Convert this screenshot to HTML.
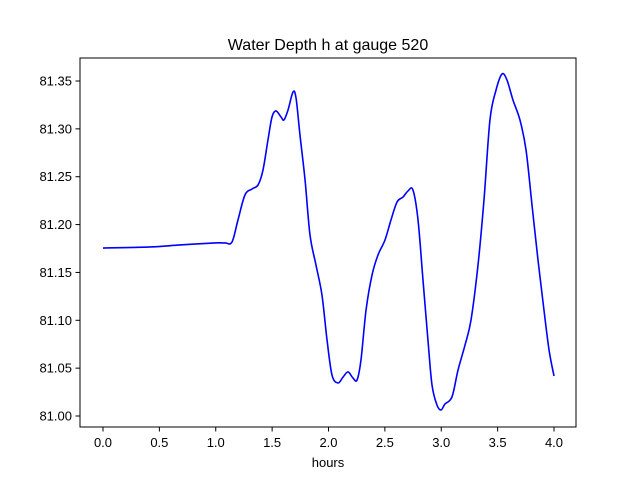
<!DOCTYPE html>
<html><head><meta charset="utf-8"><style>
body{margin:0;background:#fff;}
svg{display:block;font-family:"Liberation Sans","DejaVu Sans",sans-serif;}
</style></head><body>
<svg id="chart" width="640" height="480">
<rect width="640" height="480" fill="#fff"/>
<text x="328" y="50" text-anchor="middle" font-size="16">Water Depth h at gauge 520</text>
<g id="axes"></g>
<path id="line" fill="none" stroke="#0000ff" stroke-width="1.6"/>
<rect x="80" y="58" width="496" height="369" fill="none" stroke="#000" stroke-width="1"/>
<text x="328" y="467" text-anchor="middle" font-size="13">hours</text>
</svg>
<script>
const hours=[0,0.417,0.683,0.993,1.082,1.144,1.197,1.259,1.322,1.375,1.419,1.463,1.499,1.534,1.579,1.605,1.641,1.685,1.712,1.747,1.792,1.836,1.889,1.942,1.987,2.031,2.084,2.129,2.173,2.217,2.253,2.288,2.333,2.386,2.439,2.501,2.554,2.608,2.661,2.705,2.749,2.794,2.838,2.882,2.918,2.962,2.998,3.033,3.095,3.149,3.211,3.264,3.326,3.379,3.432,3.486,3.539,3.583,3.636,3.698,3.752,3.805,3.858,3.911,3.956,4.0];
const depth=[81.1755,81.1766,81.1787,81.1808,81.1808,81.1818,81.2048,81.2309,81.2372,81.2414,81.2570,81.2884,81.3124,81.3187,81.3124,81.3093,81.3197,81.3385,81.3322,81.2936,81.2466,81.1891,81.1578,81.1264,81.0794,81.0428,81.0345,81.0407,81.0460,81.0397,81.0376,81.0585,81.1107,81.1473,81.1682,81.1839,81.2048,81.2236,81.2288,81.2351,81.2361,81.2048,81.1421,81.0794,81.0324,81.0115,81.0063,81.0125,81.0199,81.0481,81.0742,81.1003,81.1578,81.2257,81.3093,81.3406,81.3573,81.3510,81.3302,81.3093,81.2779,81.2204,81.1630,81.1107,81.0690,81.0418];
const xTicks=[0,0.5,1,1.5,2,2.5,3,3.5,4];
const xTickLabels=["0.0","0.5","1.0","1.5","2.0","2.5","3.0","3.5","4.0"];
const yTicks=[81.00,81.05,81.10,81.15,81.20,81.25,81.30,81.35];
const yTickLabels=["81.00","81.05","81.10","81.15","81.20","81.25","81.30","81.35"];
const xs=h=>103+h*112.75;
const ys=v=>416-(v-81.0)*957.1;
const NS="http://www.w3.org/2000/svg";
const axes=document.getElementById('axes');
xTicks.forEach((t,i)=>{
  const l=document.createElementNS(NS,'line');
  
  
  l.setAttribute('x1',xs(t));l.setAttribute('x2',xs(t));l.setAttribute('y1',427);l.setAttribute('y2',431.5);l.setAttribute('stroke','#000');
  axes.appendChild(l);
  const tx=document.createElementNS(NS,'text');
  
  
  tx.setAttribute('x',xs(t));tx.setAttribute('y',447);tx.setAttribute('text-anchor','middle');tx.setAttribute('font-size','13');
  tx.textContent=xTickLabels[i];axes.appendChild(tx);
});
yTicks.forEach((t,i)=>{
  const l=document.createElementNS(NS,'line');
  
  
  l.setAttribute('x1',75.5);l.setAttribute('x2',80);l.setAttribute('y1',ys(t));l.setAttribute('y2',ys(t));l.setAttribute('stroke','#000');
  axes.appendChild(l);
  const tx=document.createElementNS(NS,'text');
  
  
  tx.setAttribute('x',72);tx.setAttribute('y',ys(t)+4.5);tx.setAttribute('text-anchor','end');tx.setAttribute('font-size','13');
  tx.textContent=yTickLabels[i];axes.appendChild(tx);
});
const P=hours.map((h,i)=>[xs(h),ys(depth[i])]);
let d='M'+P[0][0]+','+P[0][1];
for(let i=0;i<P.length-1;i++){
  const p0=P[Math.max(0,i-1)],p1=P[i],p2=P[i+1],p3=P[Math.min(P.length-1,i+2)];
  const c1=[p1[0]+(p2[0]-p0[0])/6,p1[1]+(p2[1]-p0[1])/6];
  const c2=[p2[0]-(p3[0]-p1[0])/6,p2[1]-(p3[1]-p1[1])/6];
  d+=` C${c1[0]},${c1[1]} ${c2[0]},${c2[1]} ${p2[0]},${p2[1]}`;
}
document.getElementById('line').setAttribute('d',d);
</script>
</body></html>
